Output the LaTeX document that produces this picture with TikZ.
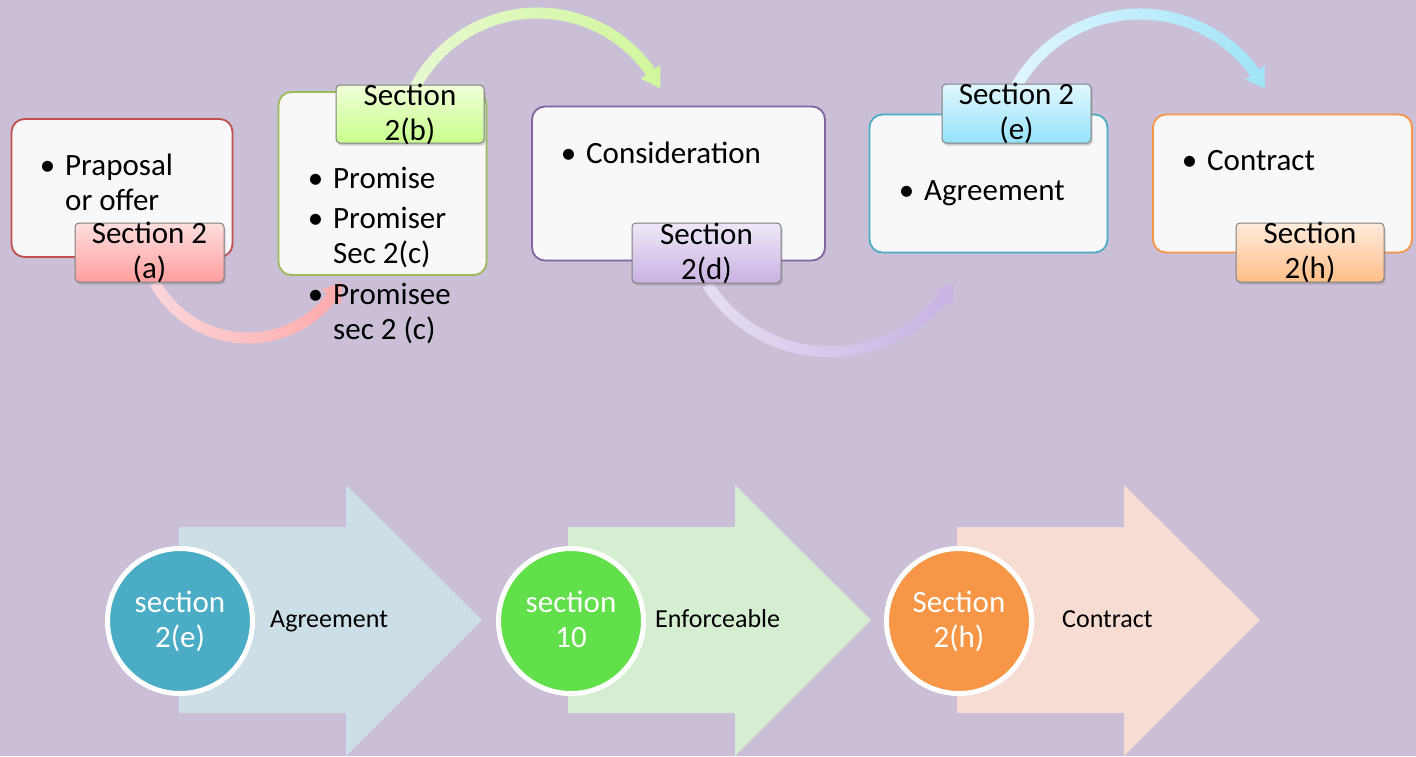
\documentclass[tikz,border=0pt]{standalone}
\usepackage{fontspec}
\setmainfont{Carlito}
\usetikzlibrary{calc,shadows}
\definecolor{bg}{HTML}{CBBED7}
\definecolor{boxfill}{HTML}{F8F8FA}
\definecolor{bred}{HTML}{C0504D}
\definecolor{bgreen}{HTML}{9BBB59}
\definecolor{bpurple}{HTML}{8064A2}
\definecolor{bblue}{HTML}{4BACC6}
\definecolor{borange}{HTML}{F79646}
\definecolor{lblborder}{HTML}{7F7F7F}
\definecolor{aTop}{HTML}{FFDEDE}\definecolor{aBot}{HTML}{FF9E9E}
\definecolor{bTop}{HTML}{F0FFD8}\definecolor{bBot}{HTML}{C8FF8C}
\definecolor{dTop}{HTML}{EFE8F7}\definecolor{dBot}{HTML}{C8B2E2}
\definecolor{eTop}{HTML}{E0F7FF}\definecolor{eBot}{HTML}{96E2FA}
\definecolor{hTop}{HTML}{FFEBDC}\definecolor{hBot}{HTML}{FFBE88}
\definecolor{arAl}{HTML}{FBD6DA}\definecolor{arAr}{HTML}{FFAAAA}
\definecolor{arBl}{HTML}{E7F8D0}\definecolor{arBr}{HTML}{D0F79C}
\definecolor{arCl}{HTML}{E6DDF2}\definecolor{arCr}{HTML}{C7B3E4}
\definecolor{arDl}{HTML}{E0F6FF}\definecolor{arDr}{HTML}{A0E4F8}
\definecolor{blkA}{HTML}{CCDEE6}
\definecolor{blkB}{HTML}{D5EDD0}
\definecolor{blkC}{HTML}{F6DCD2}
\definecolor{cirA}{HTML}{4BACC6}
\definecolor{cirB}{HTML}{62E04B}
\definecolor{cirC}{HTML}{F79646}
\newcommand\bul{\llap{\textbullet\hspace{10pt}}}
% #1 centre, #2 radius, #3 start angle, #4 head base angle, #5 tip angle, #6 left colour, #7 right colour
\newcommand\curvedband[7]{%
  \path[left color=#6, right color=#7]
    ($(#1)+(#3:#2+5.5)$) arc[start angle=#3, end angle=#4, radius=#2+5.5]
    -- ($(#1)+(#4:#2+12)$) -- ($(#1)+(#5:#2)$) -- ($(#1)+(#4:#2-12)$)
    -- ($(#1)+(#4:#2-5.5)$) arc[start angle=#4, end angle=#3, radius=#2-5.5]
    -- cycle;}
\begin{document}
\begin{tikzpicture}[x=1pt,y=-1pt,
  mbox/.style={rectangle, rounded corners=13pt, line width=1.8pt, fill=boxfill, inner sep=0pt},
  lbl/.style={rectangle, rounded corners=4pt, draw=lblborder, line width=1pt, inner sep=0pt,
    drop shadow={opacity=0.35, shadow xshift=1.5pt, shadow yshift=-2.5pt}},
  lbltext/.style={align=center, inner sep=0pt, font=\fontsize{31}{35}\selectfont},
  btext/.style={anchor=base west, inner sep=0pt, font=\fontsize{31}{35}\selectfont},
  circ/.style={circle, draw=white, line width=5pt, minimum size=145pt, inner sep=0pt,
    text=white, align=center, font=\fontsize{31}{35}\selectfont},
  atext/.style={anchor=base west, inner sep=0pt, font=\fontsize{26}{30}\selectfont}]
\fill[bg] (0,0) rectangle (1416,756);
\useasboundingbox (0,0) rectangle (1416,756);

% curved connectors (drawn first)
\coordinate (oA) at (248,232);
\coordinate (oB) at (537.5,151);
\coordinate (oC) at (830,207);
\coordinate (oD) at (1140,156);
\curvedband{oA}{106}{151.3}{38}{28}{arAl}{arAr}
\curvedband{oB}{138}{207}{325}{333}{arBl}{arBr}
\curvedband{oC}{145}{147.6}{39}{31.7}{arCl}{arCr}
\curvedband{oD}{142}{208.5}{324}{331.5}{arDl}{arDr}

% main boxes
\node[mbox, draw=bred, minimum width=221pt, minimum height=138pt] (b1) at (122,188) {};
\node[mbox, draw=bgreen, minimum width=208pt, minimum height=183pt] (b2) at (382.5,183.5) {};
\node[mbox, draw=bpurple, minimum width=293pt, minimum height=154pt] (b3) at (678.5,183.5) {};
\node[mbox, draw=bblue, minimum width=238pt, minimum height=138pt] (b4) at (988.5,183.5) {};
\node[mbox, draw=borange, minimum width=259pt, minimum height=138pt] (b5) at (1282.5,183.5) {};

% box texts
\node[btext] (t1a) at (65,175) {\bul Praposal};
\node[btext] (t1b) at (65,210) {or offer};
\node[btext] (t2a) at (333,188) {\bul Promise};
\node[btext] (t2b) at (333,228) {\bul Promiser};
\node[btext] (t2c) at (333,263) {Sec 2(c)};
\node[btext] (t2d) at (333,304) {\bul Promisee};
\node[btext] (t2e) at (333,339) {sec 2 (c)};
\node[btext] (t3) at (586,163) {\bul Consideration};
\node[btext] (t4) at (924,200) {\bul Agreement};
\node[btext] (t5) at (1207,170) {\bul Contract};

% labels
\node[lbl, top color=aTop, bottom color=aBot, minimum width=149pt, minimum height=59pt,
  label={[lbltext]center:{Section 2\\(a)}}] (la) at (149.5,252.5) {};
\node[lbl, top color=bTop, bottom color=bBot, minimum width=148pt, minimum height=58pt,
  label={[lbltext]center:{Section\\2(b)}}] (lb) at (410,114) {};
\node[lbl, top color=dTop, bottom color=dBot, minimum width=149pt, minimum height=60pt,
  label={[lbltext]center:{Section\\2(d)}}] (ld) at (706.5,253) {};
\node[lbl, top color=eTop, bottom color=eBot, minimum width=149pt, minimum height=59pt,
  label={[lbltext]center:{Section 2\\(e)}}] (le) at (1016.5,113.5) {};
\node[lbl, top color=hTop, bottom color=hBot, minimum width=148pt, minimum height=59pt,
  label={[lbltext]center:{Section\\2(h)}}] (lh) at (1310,252.5) {};

% bottom block arrows
\fill[blkA] (179,527) -- (346,527) -- (346,485) -- (482,620) -- (346,756) -- (346,713) -- (179,713) -- cycle;
\fill[blkB] (568,527) -- (735,527) -- (735,485) -- (871,620) -- (735,756) -- (735,713) -- (568,713) -- cycle;
\fill[blkC] (957,527) -- (1124,527) -- (1124,485) -- (1260,620) -- (1124,756) -- (1124,713) -- (957,713) -- cycle;

\node[circ, fill=cirA] (c1) at (180,621) {section\\2(e)};
\node[circ, fill=cirB] (c2) at (571,621) {section\\10\vphantom{(}};
\node[circ, fill=cirC] (c3) at (959,621) {Section\\2(h)};

\node[atext] (a1) at (270,627) {Agreement};
\node[atext] (a2) at (655,627) {Enforceable};
\node[atext] (a3) at (1062,627) {Contract};
\end{tikzpicture}
\end{document}
